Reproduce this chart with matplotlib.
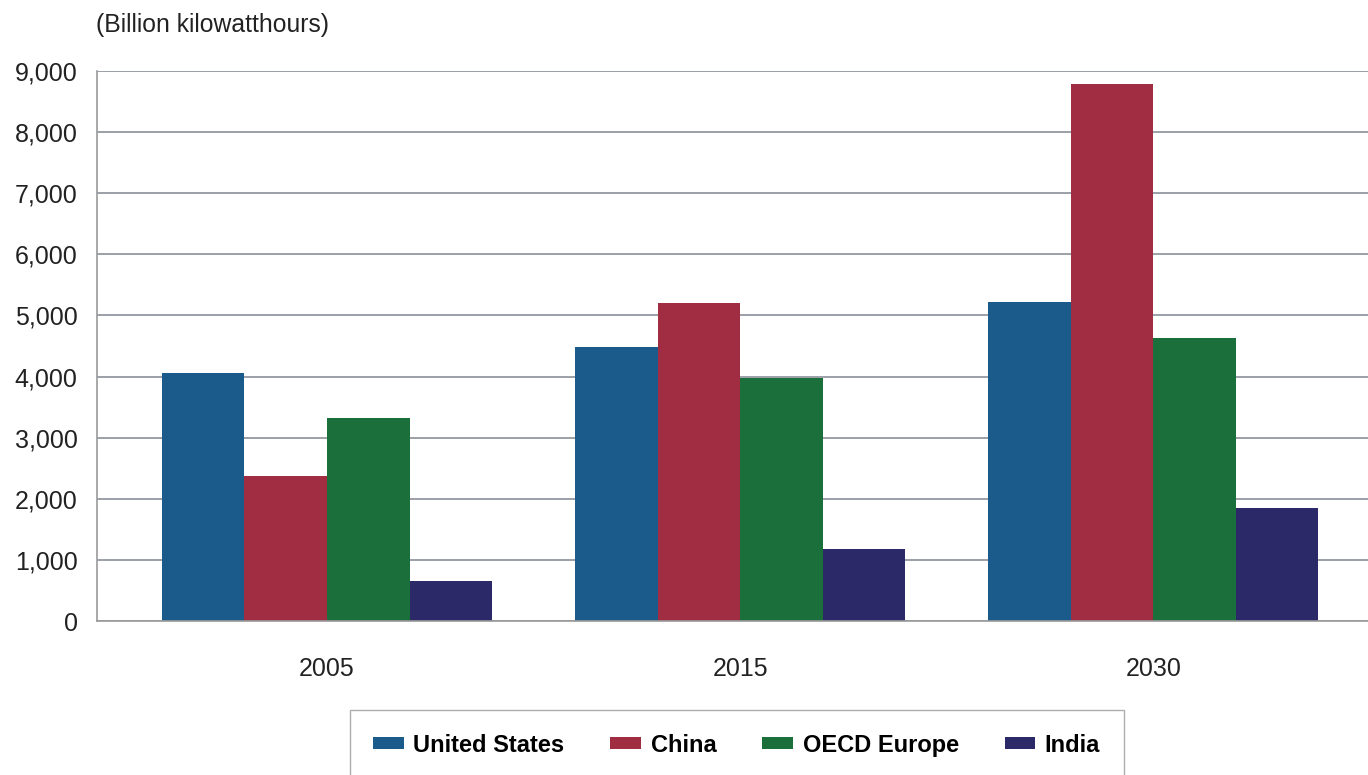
import numpy as np
import matplotlib.pyplot as plt
from matplotlib.patches import Patch

plt.rcParams['font.family'] = ['Liberation Sans', 'DejaVu Sans']

years = ['2005', '2015', '2030']
united_states = [4050, 4480, 5220]
china = [2370, 5200, 8790]
oecd_europe = [3320, 3980, 4630]
india = [650, 1180, 1850]

series = ['United States', 'China', 'OECD Europe', 'India']
colors = ['#1b5b8c', '#a02d41', '#1b6f3b', '#2b2967']
values = [united_states, china, oecd_europe, india]

fig = plt.figure(figsize=(13.68, 7.75), dpi=100)
ax = fig.add_axes([0.0709, 0.1987, 0.9291, 0.7097])

x = np.arange(len(years))
w = 0.2
for i, (name, vals, c) in enumerate(zip(series, values, colors)):
    ax.bar(x + (i - 1.5) * w, vals, width=w, color=c, label=name, zorder=2)

ax.set_ylim(0, 9000)
ax.set_xlim(-0.557, 2.52)
ax.set_yticks(np.arange(0, 9001, 1000))
ax.set_yticklabels(['{:,}'.format(v) for v in range(0, 9001, 1000)])
ax.set_xticks(x)
ax.set_xticklabels(years)
ax.tick_params(axis='both', length=0, labelsize=18, colors='#222222')
ax.tick_params(axis='y', pad=14)
ax.tick_params(axis='x', pad=26)
ax.grid(axis='y', color='#8a8f9a', linewidth=1.2, zorder=0)
for s in ['top', 'right']:
    ax.spines[s].set_visible(False)
for s in ['left', 'bottom']:
    ax.spines[s].set_color('#9a9a9a')
    ax.spines[s].set_linewidth(1.2)

fig.text(0.07, 0.968, '(Billion kilowatthours)', fontsize=17.8, color='#222222',
         ha='left', va='center')

handles = [Patch(facecolor=c, label=n) for n, c in zip(series, colors)]
fig.legend(handles=handles, loc='upper center', bbox_to_anchor=(0.5385, 0.084),
           ncol=4, frameon=True, fancybox=False, edgecolor='#999999',
           prop={'weight': 'bold', 'size': 17},
           handlelength=1.3, handleheight=0.45, columnspacing=1.95, handletextpad=0.4,
           borderpad=1.0, borderaxespad=0)

fig.savefig('out.png', dpi=100)
